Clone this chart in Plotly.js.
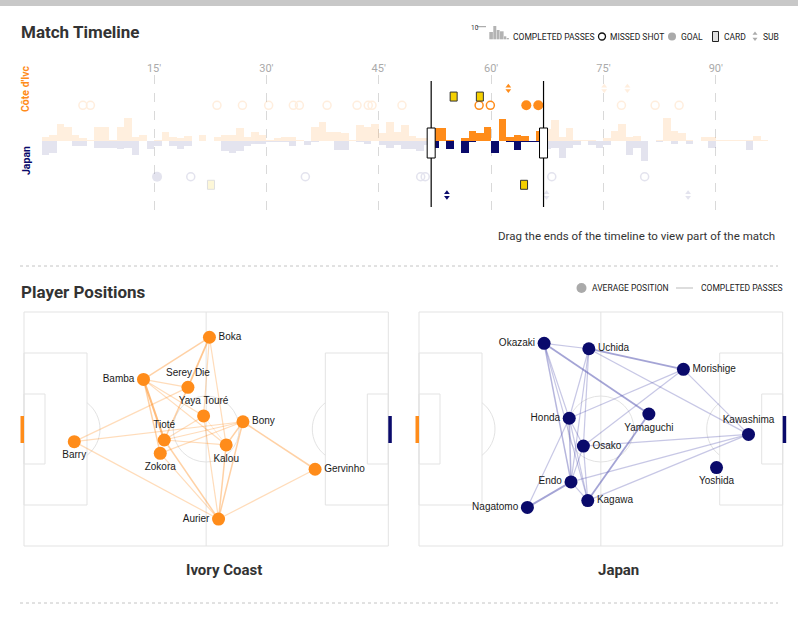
<!DOCTYPE html>
<html><head><meta charset="utf-8">
<script src="https://cdn.plot.ly/plotly-3.0.1.min.js"></script>
<style>html,body{margin:0;padding:0;background:#fff;}#chart{width:798px;height:617px;}</style>
</head><body><div id="chart"></div>
<script>
// ---------------- DATA ----------------
const minuteBins = [0,1,2,3,4,5,6,7,8,9,10,11,12,13,14,15,16,17,18,19,20,21,22,23,24,25,26,27,28,29,30,31,32,33,34,35,36,37,38,39,40,41,42,43,44,45,46,47,48,49,50,51,52,53,54,55,56,57,58,59,60,61,62,63,64,65,66,67,68,69,70,71,72,73,74,75,76,77,78,79,80,81,82,83,84,85,86,87,88,89,90,91,92,93,94,95,96];
const ivoryPasses = [3,5,13,11,5,2,1,11,11,1, 11,18,3,5,0,1,7,3,2,4, 0,5,0,3,5,5,10,3,7,5, 1,2,3,3,1,0,11,15,7,7, 6,1,12,11,13,6,15,7,12,4, 2,2,10,10,1,0,2,8,6,11, 0,17,3,5,4,0,8,9,16,3, 10,1,1,1,0,2,8,13,3,4, 0,0,1,18,8,6,1,0,3,3, 1,1,1,1,1,4,1];
const japanPasses = [11,9,0,0,4,4,0,5,5,5, 6,5,11,0,6,4,0,4,6,4, 0,0,0,0,8,9,8,4,2,2, 1,1,1,4,0,3,1,0,0,7, 7,0,1,2,0,3,5,3,6,6, 8,3,5,0,6,0,9,1,0,0, 9,0,1,7,1,1,1,6,5,13, 5,3,0,3,5,3,0,0,11,5, 15,0,1,0,2,0,2,0,0,5, 0,0,0,0,7,0,0];

const ivoryMissedShots = [5.5,6.5,23.4,26.8,30.3,33.6,34.4,38.1,42.1,43.6,44.1,48.1,58.4,59.9,77.4,81.9,85.1];
const ivoryGoals = [64.7,66.3];
const ivoryCards = [55.0,58.5];
const ivorySubs = [62.3,75.1,78.2];
const japanMissedShots = [19.9,35.2,50.6,51.2,68.1,80.5];
const japanGoals = [15.4];
const japanCards = [22.6,64.4];
const japanSubs = [54.1,67.4,86.3];

const selection = [52, 67];
const minuteTicks = [15,30,45,60,75,90];
const minuteTickText = ["15'","30'","45'","60'","75'","90'"];

const ivoryPlayers = ['Boka','Bamba','Serey Die','Yaya Touré','Bony','Tioté','Kalou','Barry','Zokora','Gervinho','Aurier'];
const ivoryX = [50.9,32.8,45.0,49.3,60.1,38.5,55.5,13.8,37.4,79.9,53.4];
const ivoryY = [89.2,71.2,67.8,55.6,53.1,45.3,43.2,44.6,39.6,32.8,11.5];
const ivoryPassFrom = ['Boka','Boka','Boka','Boka','Bamba','Bamba','Bamba','Bamba','Bamba','Serey Die','Serey Die','Barry','Barry','Tioté','Tioté','Tioté','Tioté','Zokora','Zokora','Bony','Bony','Bony','Kalou','Gervinho','Yaya Touré','Yaya Touré'];
const ivoryPassTo   = ['Bamba','Serey Die','Yaya Touré','Kalou','Serey Die','Tioté','Zokora','Yaya Touré','Kalou','Tioté','Barry','Bony','Aurier','Bony','Kalou','Yaya Touré','Aurier','Bony','Aurier','Kalou','Gervinho','Aurier','Aurier','Aurier','Aurier','Kalou'];
const ivoryPassCount= [3,4,2,2,2,5,3,2,2,3,2,2,2,2,2,2,3,2,2,3,3,3,3,2,2,1];

const japanPlayers = ['Okazaki','Uchida','Morishige','Honda','Yamaguchi','Kawashima','Osako','Yoshida','Endo','Kagawa','Nagatomo'];
const japanX = [34.4,46.7,72.7,41.3,63.2,90.6,45.2,81.8,41.8,46.4,29.8];
const japanY = [86.6,84.3,75.5,54.6,56.4,47.7,42.7,33.5,27.4,19.4,16.5];
const japanPassFrom = ['Okazaki','Okazaki','Okazaki','Okazaki','Okazaki','Uchida','Uchida','Uchida','Uchida','Uchida','Morishige','Morishige','Morishige','Honda','Honda','Honda','Yamaguchi','Kawashima','Kawashima','Kawashima','Endo','Endo','Osako','Nagatomo','Osako'];
const japanPassTo   = ['Uchida','Yamaguchi','Endo','Kagawa','Honda','Morishige','Kawashima','Honda','Endo','Osako','Honda','Osako','Kawashima','Endo','Kagawa','Osako','Kagawa','Osako','Endo','Kagawa','Nagatomo','Kagawa','Kagawa','Honda','Endo'];
const japanPassCount= [2,4,3,2,2,4,2,2,2,2,2,2,2,3,2,2,4,2,2,2,4,2,2,2,2];

// ---------------- STYLE ----------------
const W = 798, H = 617;
const X = p => p / W, Y = p => 1 - p / H;
const ORANGE = '#ff8c1a', NAVY = '#0a0a6b', CARD = '#f5d000';
const UI = 'Roboto, Arial, sans-serif';
const LBL = '"Liberation Sans", Arial, sans-serif';
const ivoryLabelPos = ['middle right','middle left','top center','top center','middle right','top center','bottom center','bottom center','bottom center','middle right','middle left'];
const japanLabelPos = ['middle left','middle right','middle right','middle left','bottom center','top center','middle right','bottom center','middle left','middle right','middle left'];
const ROW = {ivCard:34.2, ivShot:27.5, ivSub:40.5, jpShot:-27.5, jpCard:-33.7, jpSub:-41.5};
const FADE_OR = 0.14, FADE_NV = 0.11;

const traces = [];
const shapes = [];
const annotations = [];

const barInSel = m => m >= selection[0] && m + 1 <= selection[1];
const evInSel = m => m >= selection[0] && m <= selection[1];

function bars(values, sign, color, fade) {
  const xi=[], yi=[], xo=[], yo=[];
  minuteBins.forEach((m, i) => {
    if (barInSel(m)) { xi.push(m + 0.5); yi.push(sign * values[i]); }
    else { xo.push(m + 0.5); yo.push(sign * values[i]); }
  });
  traces.push({type:'bar', x:xo, y:yo, width:1, marker:{color, line:{width:0}}, opacity:fade, xaxis:'x', yaxis:'y', hoverinfo:'skip'});
  traces.push({type:'bar', x:xi, y:yi, width:1, marker:{color, line:{width:0}}, opacity:1, xaxis:'x', yaxis:'y', hoverinfo:'skip'});
}
bars(ivoryPasses, 1, ORANGE, FADE_OR);
bars(japanPasses, -1, NAVY, FADE_NV);

function events(mins, row, marker, fade) {
  const si = mins.filter(evInSel), so = mins.filter(m => !evInSel(m));
  traces.push({type:'scatter', mode:'markers', x:so, y:so.map(() => row), marker, opacity:fade, xaxis:'x', yaxis:'y', hoverinfo:'skip', cliponaxis:false});
  traces.push({type:'scatter', mode:'markers', x:si, y:si.map(() => row), marker, opacity:1, xaxis:'x', yaxis:'y', hoverinfo:'skip', cliponaxis:false});
}
events(ivoryMissedShots, ROW.ivShot, {symbol:'circle-open', size:8, color:ORANGE, line:{width:1.5}}, FADE_OR);
events(ivoryGoals, ROW.ivShot, {symbol:'circle', size:10, color:ORANGE}, FADE_OR);
events(ivorySubs, ROW.ivSub + 1.7, {symbol:'triangle-up', size:5, color:ORANGE}, FADE_OR);
events(ivorySubs, ROW.ivSub - 1.7, {symbol:'triangle-down', size:5, color:ORANGE}, FADE_OR);
events(japanMissedShots, ROW.jpShot, {symbol:'circle-open', size:8, color:NAVY, line:{width:1.5}}, FADE_NV);
events(japanGoals, ROW.jpShot, {symbol:'circle', size:10, color:NAVY}, FADE_NV);
events(japanSubs, ROW.jpSub + 1.7, {symbol:'triangle-up', size:5, color:NAVY}, FADE_NV);
events(japanSubs, ROW.jpSub - 1.7, {symbol:'triangle-down', size:5, color:NAVY}, FADE_NV);

function cards(mins, row) {
  mins.forEach(m => shapes.push({type:'rect', xref:'x', yref:'y', xsizemode:'pixel', ysizemode:'pixel', xanchor:m, yanchor:row,
    x0:-3.5, x1:3.5, y0:-4.5, y1:4.5, fillcolor:CARD, line:{color:'#333', width:1}, opacity: evInSel(m) ? 1 : 0.15, layer:'above'}));
}
cards(ivoryCards, ROW.ivCard);
cards(japanCards, ROW.jpCard);

// selection handles
selection.forEach(m => {
  shapes.push({type:'line', xref:'x', yref:'paper', x0:m, x1:m, y0:Y(81), y1:Y(207), line:{color:'#000', width:1.2}, layer:'above'});
  shapes.push({type:'rect', xref:'x', yref:'paper', xsizemode:'pixel', xanchor:m, x0:-4, x1:4, y0:Y(158), y1:Y(128), fillcolor:'#fff', line:{color:'#000', width:1}, layer:'above'});
});

// pitches
function pitch(L, R, T, B) {
  const lc = '#e3e3e3';
  const rect = (x0,y0,x1,y1) => shapes.push({type:'rect', xref:'paper', yref:'paper', x0:X(x0), x1:X(x1), y0:Y(y1), y1:Y(y0), line:{color:lc, width:1}, layer:'below'});
  const cx = (L+R)/2, cy = (T+B)/2;
  rect(L, T, R, B);
  shapes.push({type:'line', xref:'paper', yref:'paper', x0:X(cx), x1:X(cx), y0:Y(T), y1:Y(B), line:{color:lc, width:1}, layer:'below'});
  shapes.push({type:'circle', xref:'paper', yref:'paper', x0:X(cx-33), x1:X(cx+33), y0:Y(cy+33), y1:Y(cy-33), line:{color:lc, width:1}, layer:'below'});
  rect(L, T+41, L+63, B-41); rect(R-63, T+41, R, B-41);
  rect(L, T+82, L+21, B-82); rect(R-21, T+82, R, B-82);
  [[L+43, 1], [R-43, -1]].forEach(([sx, dir]) => {
    const th = Math.acos(20/33); let p = '';
    for (let k = 0; k <= 16; k++) {
      const a = -th + 2*th*k/16;
      const px = sx + dir*33*Math.cos(a), py = cy + 33*Math.sin(a);
      p += (k ? ' L' : 'M') + X(px).toFixed(5) + ',' + Y(py).toFixed(5);
    }
    shapes.push({type:'path', xref:'paper', yref:'paper', path:p, line:{color:lc, width:1}, layer:'below'});
  });
  shapes.push({type:'rect', xref:'paper', yref:'paper', x0:X(L-3.5), x1:X(L), y0:Y(443), y1:Y(416), fillcolor:ORANGE, line:{width:0}});
  shapes.push({type:'rect', xref:'paper', yref:'paper', x0:X(R), x1:X(R+3.5), y0:Y(443), y1:Y(416), fillcolor:NAVY, line:{width:0}});
}
pitch(24, 388.3, 312, 546);
pitch(419, 782.7, 312, 546);

function network(names, xs, ys, from, to, count, ax, ay, color, lineRGB, labelPos) {
  const levels = [...new Set(count)].sort();
  levels.forEach(c => {
    const lx = [], ly = [];
    from.forEach((f, i) => {
      if (count[i] !== c) return;
      const a = names.indexOf(f), b = names.indexOf(to[i]);
      lx.push(xs[a], xs[b], null); ly.push(ys[a], ys[b], null);
    });
    const alpha = Math.min(0.8, 0.12 + 0.1*c);
    traces.push({type:'scatter', mode:'lines', x:lx, y:ly, line:{color:`rgba(${lineRGB},${alpha})`, width:0.6 + 0.3*c}, xaxis:ax, yaxis:ay, hoverinfo:'skip', cliponaxis:false});
  });
  traces.push({type:'scatter', mode:'markers+text', x:xs, y:ys, text:names, textposition:labelPos,
    textfont:{family:LBL, size:10, color:'#1a1a1a'}, marker:{size:13, color}, xaxis:ax, yaxis:ay, hoverinfo:'skip', cliponaxis:false});
}
network(ivoryPlayers, ivoryX, ivoryY, ivoryPassFrom, ivoryPassTo, ivoryPassCount, 'x2', 'y2', ORANGE, '255,145,40', ivoryLabelPos);
network(japanPlayers, japanX, japanY, japanPassFrom, japanPassTo, japanPassCount, 'x3', 'y3', NAVY, '80,80,175', japanLabelPos);

// decorations
shapes.push({type:'rect', xref:'paper', yref:'paper', x0:0, x1:1, y0:Y(6), y1:1, fillcolor:'#c8c8c8', line:{width:0}, layer:'below'});
[266, 603].forEach(py => shapes.push({type:'line', xref:'paper', yref:'paper', x0:X(20), x1:X(778), y0:Y(py), y1:Y(py), line:{color:'#c4c4c4', width:1, dash:'dot'}}));

// timeline legend icons
[[489.3,493.3,32],[493.3,496.7,26],[496.7,500,30],[500,504,31.3],[504,506.7,36.3],[506.7,509.3,38]].forEach(([a,b,t]) =>
  shapes.push({type:'rect', xref:'paper', yref:'paper', x0:X(a), x1:X(b-0.4), y0:Y(39.3), y1:Y(t), fillcolor:'#b3b3b3', line:{width:0}}));
shapes.push({type:'line', xref:'paper', yref:'paper', x0:X(477), x1:X(493), y0:Y(26.7), y1:Y(26.7), line:{color:'#999', width:1, dash:'dash'}});
shapes.push({type:'circle', xref:'paper', yref:'paper', x0:X(598.5), x1:X(605.5), y0:Y(40), y1:Y(33), line:{color:'#111', width:1.3}});
shapes.push({type:'circle', xref:'paper', yref:'paper', x0:X(668), x1:X(676), y0:Y(40.5), y1:Y(32.5), fillcolor:'#aaa', line:{width:0}});
shapes.push({type:'rect', xref:'paper', yref:'paper', x0:X(712.5), x1:X(718.5), y0:Y(41.5), y1:Y(31.5), fillcolor:'#e0e0e0', line:{color:'#222', width:1}});
shapes.push({type:'path', xref:'paper', yref:'paper', path:`M${X(752.5)},${Y(34.8)} L${X(757.5)},${Y(34.8)} L${X(755)},${Y(31.5)} Z`, fillcolor:'#aaa', line:{width:0}});
shapes.push({type:'path', xref:'paper', yref:'paper', path:`M${X(752.5)},${Y(37.8)} L${X(757.5)},${Y(37.8)} L${X(755)},${Y(41.1)} Z`, fillcolor:'#aaa', line:{width:0}});
// positions legend
shapes.push({type:'circle', xref:'paper', yref:'paper', x0:X(576.5), x1:X(586.5), y0:Y(293), y1:Y(283), fillcolor:'#aaa', line:{width:0}});
shapes.push({type:'line', xref:'paper', yref:'paper', x0:X(676), x1:X(693), y0:Y(288), y1:Y(288), line:{color:'#bbb', width:1}});

function txt(text, x, y, size, color, opts={}) {
  annotations.push(Object.assign({text, x:X(x), y:Y(y), xref:'paper', yref:'paper', showarrow:false, xanchor:'left', yanchor:'middle',
    font:{family:UI, size, color}}, opts));
}
txt('<b>Match Timeline</b>', 19, 32, 17, '#333');
txt('<b>Player Positions</b>', 19, 292, 17, '#333');
txt('10', 469, 28, 6.5, '#333');
txt('COMPLETED PASSES', 510.5, 37, 8.5, '#222');
txt('MISSED SHOT', 607.5, 37, 8.5, '#222');
txt('GOAL', 678.5, 37, 8.5, '#222');
txt('CARD', 721.5, 37, 8.5, '#222');
txt('SUB', 760.5, 37, 8.5, '#222');
txt('AVERAGE POSITION', 589.5, 288, 8.5, '#222');
txt('COMPLETED PASSES', 699, 288, 8.5, '#222');
txt('Drag the ends of the timeline to view part of the match', 777, 236, 11.5, '#333', {xanchor:'right'});
txt("<b>Côte d'Ivc</b>", 26, 89, 10.5, ORANGE, {xanchor:'center', textangle:-90});
txt('<b>Japan</b>', 26, 161, 10.5, NAVY, {xanchor:'center', textangle:-90});
txt('<b>Ivory Coast</b>', 224, 570, 15, '#333', {xanchor:'center'});
txt('<b>Japan</b>', 618, 570, 15, '#333', {xanchor:'center'});

const hidden = {visible:false, fixedrange:true};
const layout = {
  width:W, height:H, margin:{l:0, r:0, t:0, b:0}, paper_bgcolor:'#fff', plot_bgcolor:'rgba(0,0,0,0)',
  showlegend:false, barmode:'overlay', bargap:0, hovermode:false,
  xaxis:{domain:[X(41.7), X(41.7 + 97*7.49)], range:[0,97], side:'top', tickmode:'array', tickvals:minuteTicks, ticktext:minuteTickText,
    showgrid:true, griddash:'dash', gridcolor:'#d9d9d9', gridwidth:1, zeroline:false, showline:false, ticks:'',
    tickfont:{family:UI, size:11, color:'#aaa'}, fixedrange:true, anchor:'y'},
  yaxis:{domain:[Y(210), Y(75)], range:[-53.1, 50.8], visible:false, fixedrange:true},
  xaxis2:Object.assign({domain:[X(24), X(388.3)], range:[0,100], anchor:'y2'}, hidden),
  yaxis2:Object.assign({domain:[Y(546), Y(312)], range:[0,100], anchor:'x2'}, hidden),
  xaxis3:Object.assign({domain:[X(419), X(782.7)], range:[0,100], anchor:'y3'}, hidden),
  yaxis3:Object.assign({domain:[Y(546), Y(312)], range:[0,100], anchor:'x3'}, hidden),
  shapes, annotations
};
Plotly.newPlot('chart', traces, layout, {displayModeBar:false, staticPlot:true});
</script></body></html>
